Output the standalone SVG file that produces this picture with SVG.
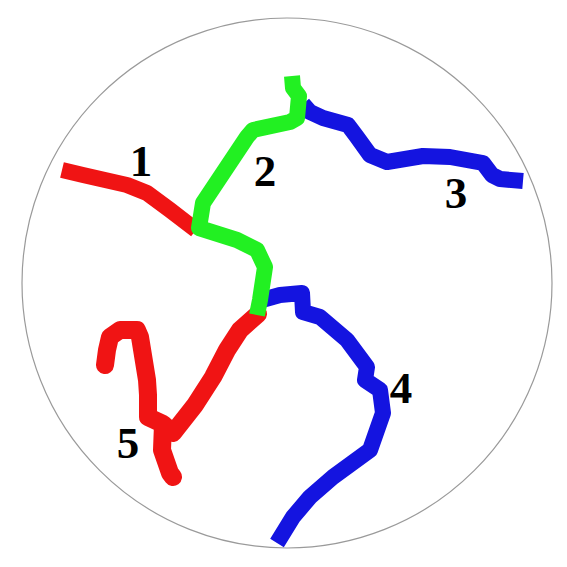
<svg xmlns="http://www.w3.org/2000/svg" width="567" height="567" viewBox="0 0 567 567">
<style>
.b{fill:none;stroke-width:16;stroke-linejoin:round;stroke-linecap:butt}
.r{stroke:#f01414}
.g{stroke:#22f022}
.u{stroke:#1414e0}
.lbl{font-family:"Liberation Serif",serif;font-weight:bold;font-size:45px;fill:#000;text-anchor:middle}
</style>
<rect width="567" height="567" fill="#fff"/>
<circle cx="287" cy="283" r="265" fill="none" stroke="#9a9a9a" stroke-width="1.2"/>
<g id="branches">
<path id="b1" class="b r" d="M62,170 L83,175 L105,180 L127,185 L147,193 L170,210 L196,230"/>
<path id="b5" class="b r" style="stroke-linecap:round;stroke-width:18" d="M258,314 L240,330 L227,350 L213,377 L195,405 L173,433 L163,424 M163,424 L162,450 L170,473 L173,477 M163,424 L148,417 L148,395 L147,380 L140,337 L137,330 L120,330 L110,337 L107,350 L105,365"/>
<path id="b3" class="b u" d="M303,104 L310,112 L323,118 L348,125 L357,137 L370,155 L387,162 L423,156 L450,157 L483,163 L492,175 L500,179 L523,181"/>
<path id="b4" class="b u" d="M262,300 L280,295 L302,293 L303,312 L320,317 L347,340 L367,367 L365,380 L380,390 L383,413 L370,450 L333,477 L310,497 L293,517 L277,543"/>
<path id="b2" class="b g" d="M292,76 L293,88 L299,96 L297,118 L290,122 L253,130 L247,137 L225,170 L203,203 L199,228 L237,240 L257,250 L265,267 L260,300 L257,315"/>
</g>
<g id="labels">
<text class="lbl" x="141" y="176">1</text>
<text class="lbl" x="265" y="186">2</text>
<text class="lbl" x="456" y="208">3</text>
<text class="lbl" x="401" y="403">4</text>
<text class="lbl" x="128" y="458">5</text>
</g>
</svg>
